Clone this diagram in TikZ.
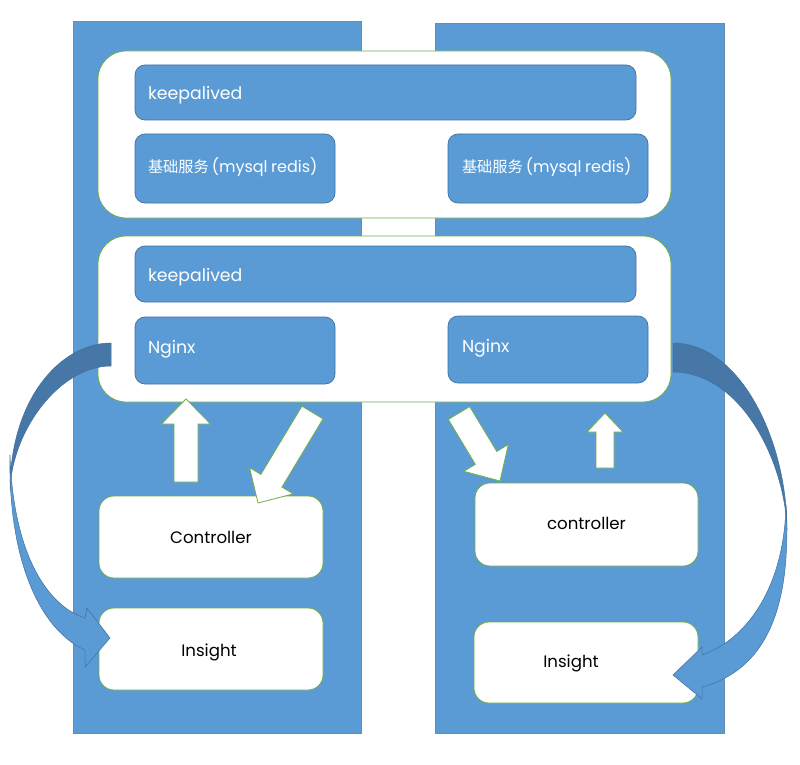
\documentclass[tikz,border=0pt]{standalone}
\usepackage{fontspec}
\setmainfont{Poppins}
\newfontfamily\cjk[Scale=0.95]{Noto Sans CJK SC}
\usetikzlibrary{calc}
\definecolor{colblue}{HTML}{5B9BD5}
\definecolor{edgeblue}{HTML}{41719C}
\definecolor{darkrib}{HTML}{4677A6}
\definecolor{grn}{HTML}{70AD47}
\newcommand\blkarrow[5]{%
  \path ($(#2)!#5!(#1)$) coordinate (hb);
  \draw[hollow] ($(#1)!#3!90:(#2)$) -- ($(hb)!#3!-90:(#1)$) -- ($(hb)!#4!-90:(#1)$) -- (#2)
     -- ($(hb)!#4!90:(#1)$) -- ($(hb)!#3!90:(#1)$) -- ($(#1)!#3!-90:(#2)$) -- cycle;
}
\newcommand\dbtext{\mbox{{\cjk 基础服务}\kern3pt(mysql\kern3.5pt redis)}}
\tikzset{
  column/.style={fill=colblue, draw=edgeblue!80, line width=0.6pt, inner sep=0pt},
  panel/.style={fill=white, draw=grn, line width=0.8pt, rounded corners=28pt, inner sep=0pt},
  base/.style={text height=#1, text depth=0pt},
  bluebox/.style={fill=colblue, draw=edgeblue, line width=0.7pt, rounded corners=10pt,
     text=white, align=left, inner xsep=13pt, inner ysep=0pt, font=\fontsize{17.3}{20}\selectfont},
  whitebox/.style={fill=white, draw=grn, line width=0.8pt, rounded corners=15pt,
     text=black, inner sep=0pt, font=\fontsize{16.6}{19}\selectfont},
  hollow/.style={fill=white, draw=grn, line width=0.8pt, line join=miter},
  ribdark/.style={fill=darkrib, draw=edgeblue, line width=0.5pt},
  riblight/.style={fill=colblue, draw=edgeblue, line width=0.5pt},
}
\begin{document}
\begin{tikzpicture}[x=1pt,y=-1pt]
\useasboundingbox (0,0) rectangle (800,765);
% columns
\node[column, minimum width=288pt, minimum height=712pt] (colL) at (217,377) {};
\node[column, minimum width=289pt, minimum height=710pt] (colR) at (579.5,378) {};
% panels
\node[panel, minimum width=573pt, minimum height=167pt] (top) at (384.5,134.5) {};
\node[panel, minimum width=573pt, minimum height=166pt] (mid) at (384.5,319) {};
% inner blue boxes
\node[bluebox, base=15pt, text width=475pt, minimum height=55pt] (ka1) at (385.5,92.5) {keepalived};
\node[bluebox, base=7pt, text width=174pt, minimum height=69pt, font=\fontsize{16}{19}\selectfont] (dbL) at (235,168.5) {\dbtext};
\node[bluebox, base=7pt, text width=172pt, inner xsep=14pt, minimum height=69pt, font=\fontsize{16}{19}\selectfont] (dbR) at (548,168.5) {\dbtext};
\node[bluebox, base=15pt, text width=475pt, minimum height=56pt] (ka2) at (385.5,274) {keepalived};
\node[bluebox, base=5pt, text width=174pt, minimum height=67pt] (ngL) at (235,350.5) {Nginx};
\node[bluebox, base=5pt, text width=172pt, inner xsep=14pt, minimum height=67pt] (ngR) at (548,349.5) {Nginx};
% white boxes
\node[whitebox, base=12.6pt, minimum width=224pt, minimum height=82pt] (ctlL) at (211,537) {Controller};
\node[whitebox, base=14pt, minimum width=224pt, minimum height=82pt] (insL) at (211,649) {Insight\kern4pt};
\node[whitebox, base=10pt, minimum width=223pt, minimum height=83pt] (ctlR) at (586.5,524.5) {controller};
\node[whitebox, base=9.6pt, minimum width=224pt, minimum height=81pt] (insR) at (586,662.5) {Insight\kern30pt};
% hollow block arrows
\coordinate (uaLs) at (186,482); \coordinate (uaLt) at (186,399);
\coordinate (daLs) at (312.5,412.5); \coordinate (daLt) at (258,503);
\coordinate (daRs) at (459,413); \coordinate (daRt) at (500,481);
\coordinate (uaRs) at (605,468); \coordinate (uaRt) at (605,413);
\blkarrow{uaLs}{uaLt}{12pt}{24.5pt}{25pt}
\blkarrow{daLs}{daLt}{12.3pt}{25.5pt}{26pt}
\blkarrow{daRs}{daRt}{12.5pt}{26pt}{27pt}
\blkarrow{uaRs}{uaRt}{9pt}{18pt}{19pt}
% left curved arrow
\draw[ribdark] (111,343) .. controls (60,343) and (10,400) .. (10,490)
   .. controls (12,430) and (60,366) .. (111,366) -- cycle;
\draw[riblight] (10,455) .. controls (8,560) and (40,630) .. (85,650)
   -- (85,667) -- (110,638) -- (87,608) -- (85,618)
   .. controls (45,605) and (13,550) .. (10,455) -- cycle;
% right curved arrow
\draw[ribdark] (673,343) .. controls (740,343) and (787,440) .. (787,530)
   .. controls (785,460) and (740,372) .. (673,372) -- cycle;
\draw[riblight] (786,505) .. controls (792,610) and (765,670) .. (702,687)
   -- (702,699) -- (673,675) -- (702,647) -- (702,655)
   .. controls (745,640) and (784,590) .. (786,505) -- cycle;
\end{tikzpicture}
\end{document}
